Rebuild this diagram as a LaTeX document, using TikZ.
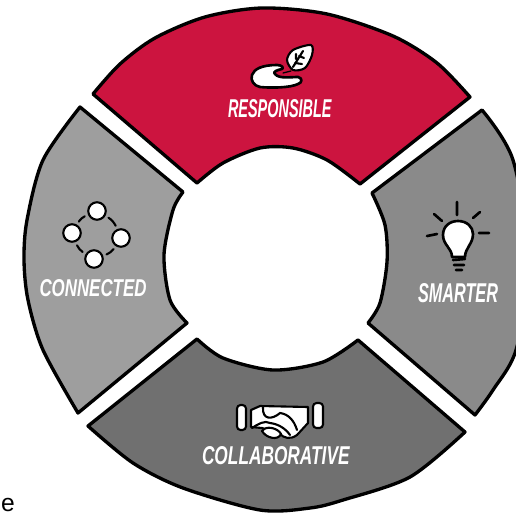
\documentclass[tikz,border=0pt]{standalone}
\usepackage{graphicx}
\usepackage{fontspec}
\setmainfont{Liberation Sans}
\definecolor{segred}{RGB}{204,20,63}
\definecolor{segleft}{RGB}{158,158,158}
\definecolor{segright}{RGB}{138,138,138}
\definecolor{segbottom}{RGB}{112,112,112}
\newcommand{\seglabel}[3]{\resizebox{#1}{#2}{\textit{\textbf{#3}}}}

\begin{document}
\begin{tikzpicture}[x=0.02cm,y=-0.02cm,
  segment/.style={draw=black,line width=1.9pt,line join=round},
  seglabel/.style={text=white,inner sep=0pt},
  iconline/.style={draw=black,line width=1.2pt,line cap=round},
  iconfill/.style={fill=white,draw=black,line width=1.2pt,line join=round},
  dot/.style={circle,iconfill,minimum size=0.35cm,inner sep=0pt}]
\useasboundingbox (0,0) rectangle (516,514);
\clip (0,0) rectangle (516,514);
% the four segments
\draw[segment,fill=segred] plot[smooth] coordinates {(93,94) (120,64) (155,38) (205,17) (262,8) (327,14) (393,36) (437,63) (470,97)}
  -- plot[smooth] coordinates {(360,184) (327,160) (293,148) (260,148) (223,163) (197,183)} -- cycle;
\draw[segment,fill=segleft] plot[smooth] coordinates {(80,107) (43,160) (27,220) (24,260) (28,300) (43,350) (78,413)}
  -- (187,323) -- plot[smooth] coordinates {(187,323) (170,300) (164,255) (173,210) (183,192)} -- cycle;
\draw[segment,fill=segright] plot[smooth] coordinates {(482,110) (513,160) (530,265) (516,350) (493,390) (475,415)}
  -- (368,323) -- plot[smooth] coordinates {(368,323) (380,303) (387,262) (385,225) (372,193)} -- cycle;
\draw[segment,fill=segbottom] plot[smooth] coordinates {(88,426) (133,463) (183,488) (260,510) (310,508) (343,500) (410,477) (465,432)}
  -- (358,340) -- plot[smooth] coordinates {(358,340) (323,362) (273,370) (223,358) (197,339)} -- cycle;
% responsible icon
\draw[iconline,line width=0.7pt] (283,73) -- (291,71);
\draw[iconfill] plot[smooth cycle] coordinates {(287,60) (293,50) (311,45) (312,55) (305,68) (293,70)};
\draw[iconline] (293,67) -- (303,51) (296,59) -- (296,54) (299,56) -- (304,58) (295,63) -- (302,64);
\draw[iconfill,line width=1.5pt] (252,75) .. controls (254,69) and (262,65) .. (277,65)
  .. controls (282,65) and (284,68) .. (282,69) .. controls (277,70) and (272,72) .. (275,74)
  .. controls (279,79) and (290,77) .. (298,77) .. controls (303,78) and (302,83) .. (298,84)
  .. controls (290,88) and (270,88) .. (260,87) .. controls (254,86) and (250,80) .. (252,75) -- cycle;
\node[seglabel] (responsible) at (280,109) {\seglabel{2.08cm}{0.36cm}{RESPONSIBLE}};
% connected icon
\node[dot] (nodetop) at (97,211) {};
\node[dot] (noderight) at (121,238) {};
\node[dot] (nodebottom) at (94,259) {};
\node[dot] (nodeleft) at (72,233) {};
\draw[iconline,shorten <=2pt,shorten >=2pt] (nodetop) to[bend left=18] (noderight);
\draw[iconline,shorten <=2pt,shorten >=2pt] (noderight) to[bend left=18] (nodebottom);
\draw[iconline,shorten <=2pt,shorten >=2pt] (nodebottom) to[bend left=18] (nodeleft);
\draw[iconline,shorten <=2pt,shorten >=2pt] (nodeleft) to[bend left=18] (nodetop);
\node[seglabel] (connected) at (93,288) {\seglabel{2.14cm}{0.34cm}{CONNECTED}};
% smarter icon
\draw[iconfill,line width=1.5pt] (452,257) .. controls (452,248) and (443,245) .. (443,235)
  .. controls (443,226) and (450,221) .. (458,221)
  .. controls (467,221) and (473,227) .. (473,234)
  .. controls (473,244) and (465,248) .. (465,257) -- cycle;
\draw[iconline,line width=1.5pt] (457,202) -- (457,215) (434,214) -- (442,221) (480,212) -- (473,218)
  (427,236) -- (437,234) (479,233) -- (489,233)
  (453,260) -- (465,259) (454,265) -- (464,265) (456,270) -- (462,270);
\node[seglabel] (smarter) at (458,293) {\seglabel{1.6cm}{0.38cm}{SMARTER}};
% collaborative icon
\draw[iconfill,rounded corners=2pt] (237,405) rectangle (246,430);
\draw[iconfill,rounded corners=2pt] (313,403) rectangle (323,428);
\draw[iconfill] (260,406) -- (308,407) -- (308,423) -- (297,435) .. controls (290,440) and (284,438) .. (280,434)
  -- (262,428) -- (251,427) -- (251,410) -- cycle;
\draw[iconline] (263,407) .. controls (262,420) and (272,420) .. (280,413) .. controls (288,414) and (294,420) .. (297,430);
\draw[iconline] (252,428) .. controls (258,424) and (265,420) .. (270,423) .. controls (278,424) and (285,428) .. (290,435);
\draw[iconfill] (262,431) .. controls (266,425) and (278,428) .. (281,434)
  .. controls (278,441) and (266,438) .. (262,431) -- cycle;
\node[seglabel] (collaborative) at (276,456) {\seglabel{2.96cm}{0.36cm}{COLLABORATIVE}};
% letter at the corner
\node[text=black,font=\fontsize{14pt}{14pt}\selectfont,inner sep=0pt,anchor=base] (letter) at (8,511) {e};
\end{tikzpicture}
\end{document}
